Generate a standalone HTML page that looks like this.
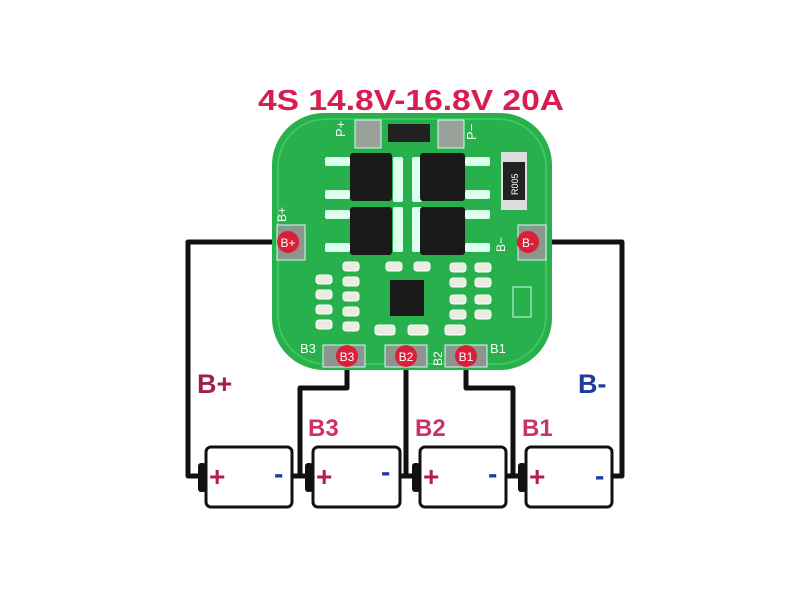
<!DOCTYPE html>
<html><head><style>body{margin:0;background:#fff}svg{display:block}</style></head><body>
<svg width="800" height="600" viewBox="0 0 800 600" font-family="Liberation Sans, sans-serif">
<rect width="800" height="600" fill="#fff"/>
<!-- wires -->
<g stroke="#111" stroke-width="5" fill="none" stroke-linejoin="round">
<path d="M288 242 H188 V476 H204"/>
<path d="M528 242 H622 V476 H612"/>
<path d="M347 356 V388 H300 V476 H314"/>
<path d="M406 356 V476 H420"/>
<path d="M466 356 V388 H513 V476 H526"/>
<path d="M292 476 H314 M400 476 H420 M506 476 H526"/>
</g>
<!-- board -->
<rect x="272" y="113" width="280" height="257" rx="52" fill="#27b04c"/>
<rect x="278" y="119" width="268" height="245" rx="48" fill="none" stroke="#3fc462" stroke-width="2"/>
<text x="258" y="110" textLength="306" lengthAdjust="spacingAndGlyphs" font-size="29" font-weight="bold" fill="#d81e50">4S 14.8V-16.8V 20A</text>
<!-- top pads -->
<rect x="355" y="120" width="26" height="28" fill="#9aa09a" stroke="#cfe" stroke-width="1"/>
<rect x="438" y="120" width="26" height="28" fill="#9aa09a" stroke="#cfe" stroke-width="1"/>
<rect x="388" y="124" width="42" height="18" fill="#222"/>
<text x="345" y="137" font-size="13" fill="#fff" transform="rotate(-90 345 137)">P+</text>
<text x="476" y="140" font-size="13" fill="#fff" transform="rotate(-90 476 140)">P−</text>
<!-- mosfets -->
<g fill="#dfe">
<rect x="325" y="157" width="25" height="9" rx="2"/><rect x="325" y="190" width="25" height="9" rx="2"/>
<rect x="325" y="210" width="25" height="9" rx="2"/><rect x="325" y="243" width="25" height="9" rx="2"/>
<rect x="465" y="157" width="25" height="9" rx="2"/><rect x="465" y="190" width="25" height="9" rx="2"/>
<rect x="465" y="210" width="25" height="9" rx="2"/><rect x="465" y="243" width="25" height="9" rx="2"/>
<rect x="393" y="157" width="10" height="45" rx="2"/><rect x="412" y="157" width="10" height="45" rx="2"/>
<rect x="393" y="207" width="10" height="45" rx="2"/><rect x="412" y="207" width="10" height="45" rx="2"/>
</g>
<g fill="#1a1a1a">
<rect x="350" y="153" width="42" height="48" rx="3"/><rect x="420" y="153" width="45" height="48" rx="3"/>
<rect x="350" y="207" width="42" height="48" rx="3"/><rect x="420" y="207" width="45" height="48" rx="3"/>
</g>
<!-- R005 -->
<rect x="501" y="152" width="26" height="58" fill="#ddd"/>
<rect x="503" y="162" width="22" height="38" fill="#222"/>
<text x="518" y="195" font-size="9" fill="#fff" transform="rotate(-90 518 195)">R005</text>
<!-- small parts -->
<g fill="#e8ede0" stroke="#fff" stroke-width="1">
<rect x="316" y="275" width="16" height="9" rx="3"/><rect x="316" y="290" width="16" height="9" rx="3"/>
<rect x="316" y="305" width="16" height="9" rx="3"/><rect x="316" y="320" width="16" height="9" rx="3"/>
<rect x="343" y="262" width="16" height="9" rx="3"/><rect x="343" y="277" width="16" height="9" rx="3"/>
<rect x="343" y="292" width="16" height="9" rx="3"/><rect x="343" y="307" width="16" height="9" rx="3"/><rect x="343" y="322" width="16" height="9" rx="3"/>
<rect x="386" y="262" width="16" height="9" rx="3"/><rect x="414" y="262" width="16" height="9" rx="3"/>
<rect x="450" y="263" width="16" height="9" rx="3"/><rect x="475" y="263" width="16" height="9" rx="3"/>
<rect x="450" y="278" width="16" height="9" rx="3"/><rect x="475" y="278" width="16" height="9" rx="3"/>
<rect x="450" y="295" width="16" height="9" rx="3"/><rect x="475" y="295" width="16" height="9" rx="3"/>
<rect x="450" y="310" width="16" height="9" rx="3"/><rect x="475" y="310" width="16" height="9" rx="3"/>
<rect x="375" y="325" width="20" height="10" rx="3"/><rect x="408" y="325" width="20" height="10" rx="3"/><rect x="445" y="325" width="20" height="10" rx="3"/>
</g>
<rect x="390" y="280" width="34" height="36" fill="#1a1a1a"/>
<rect x="513" y="287" width="18" height="30" fill="none" stroke="#cfe"/>
<text x="286" y="222" font-size="12" fill="#fff" transform="rotate(-90 286 222)">B+</text>
<text x="505" y="252" font-size="12" fill="#fff" transform="rotate(-90 505 252)">B−</text>
<text x="300" y="353" font-size="13" fill="#fff">B3</text>
<text x="490" y="353" font-size="13" fill="#fff">B1</text>
<text x="442" y="366" font-size="12" fill="#fff" transform="rotate(-90 442 366)">B2</text>
<!-- pads -->
<g fill="#8e948e" stroke="#cfe">
<rect x="277" y="225" width="28" height="35"/><rect x="518" y="225" width="28" height="35"/>
<rect x="323" y="345" width="42" height="22"/><rect x="385" y="345" width="42" height="22"/><rect x="445" y="345" width="42" height="22"/>
</g>
<g fill="#d8203a">
<circle cx="288" cy="242" r="11"/><circle cx="528" cy="242" r="11"/>
<circle cx="347" cy="356" r="11"/><circle cx="406" cy="356" r="11"/><circle cx="466" cy="356" r="11"/>
</g>
<g font-size="12" fill="#fff" text-anchor="middle">
<text x="288" y="247">B+</text><text x="528" y="247">B-</text>
<text x="347" y="361">B3</text><text x="406" y="361">B2</text><text x="466" y="361">B1</text>
</g>
<!-- labels -->
<text x="197" y="393" font-size="27" font-weight="bold" fill="#a0224a">B+</text>
<text x="578" y="393" font-size="27" font-weight="bold" fill="#1f3a9a">B-</text>
<text x="308" y="436" font-size="24" font-weight="bold" fill="#d0306a">B3</text>
<text x="415" y="436" font-size="24" font-weight="bold" fill="#d0306a">B2</text>
<text x="522" y="436" font-size="24" font-weight="bold" fill="#d0306a">B1</text>
<!-- batteries -->
<g fill="#fff" stroke="#111" stroke-width="3">
<rect x="206" y="447" width="86" height="60" rx="5"/><rect x="313" y="447" width="87" height="60" rx="5"/>
<rect x="420" y="447" width="86" height="60" rx="5"/><rect x="526" y="447" width="86" height="60" rx="5"/>
</g>
<g fill="#111">
<rect x="198" y="463" width="8" height="29" rx="3"/><rect x="305" y="463" width="8" height="29" rx="3"/>
<rect x="412" y="463" width="8" height="29" rx="3"/><rect x="518" y="463" width="8" height="29" rx="3"/>
</g>
<g font-size="28" font-weight="bold">
<text x="209" y="486" fill="#b02050">+</text><text x="316" y="486" fill="#b02050">+</text>
<text x="423" y="486" fill="#b02050">+</text><text x="529" y="486" fill="#b02050">+</text>
<text x="274" y="483" fill="#1f3a9a">-</text><text x="381" y="481" fill="#1f3a9a">-</text>
<text x="488" y="483" fill="#1f3a9a">-</text><text x="595" y="485" fill="#1f3a9a">-</text>
</g>
</svg>
</body></html>
